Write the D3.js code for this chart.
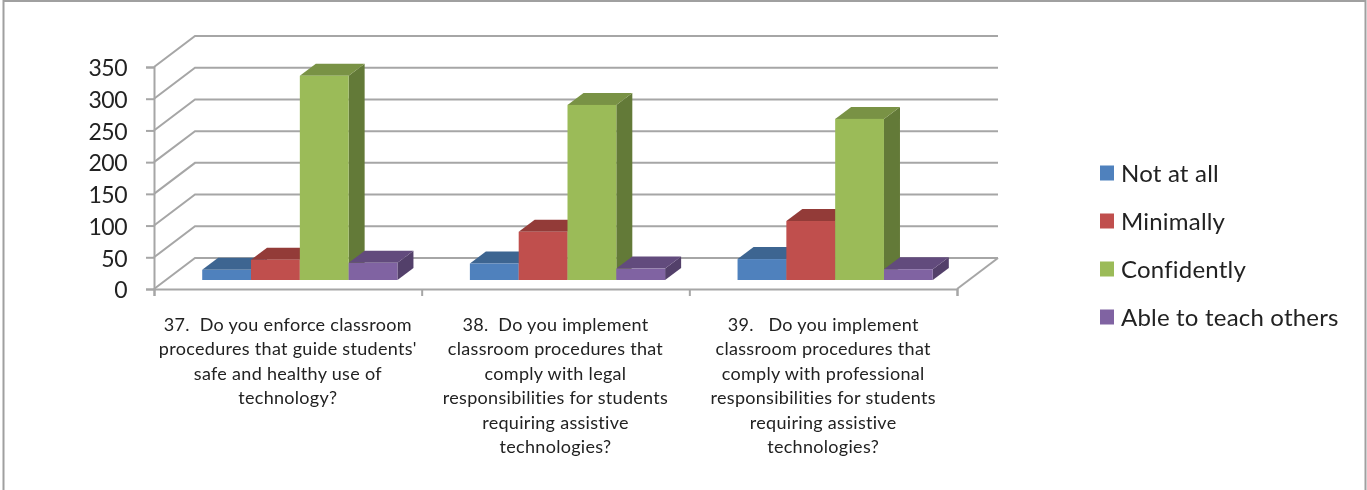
<!DOCTYPE html>
<html>
<head>
<meta charset="utf-8">
<script src="https://cdn.jsdelivr.net/npm/d3@7"></script>
<style>
    html, body { margin: 0; padding: 0; background: #fff; }
    svg { display: block; }
    text { font-family: Lato, "Open Sans", sans-serif; fill: #222; white-space: pre; }
</style>
</head>
<body>
<svg id="chart" width="1367" height="490"></svg>
<script>
const categories = [
    ["37.  Do you enforce classroom", "procedures that guide students'", "safe and healthy use of", "technology?"],
    ["38.  Do you implement", "classroom procedures that", "comply with legal", "responsibilities for students", "requiring assistive", "technologies?"],
    ["39.   Do you implement", "classroom procedures that", "comply with professional", "responsibilities for students", "requiring assistive", "technologies?"]
];
const seriesNames = ["Not at all", "Minimally", "Confidently", "Able to teach others"];
const notAtAll = [16, 26, 33];
const minimally = [32, 76, 93];
const confidently = [322, 276, 254];
const ableToTeach = [27, 18, 17];
const yTicks = [0, 50, 100, 150, 200, 250, 300, 350];

const seriesValues = [notAtAll, minimally, confidently, ableToTeach];
const colors = [
    { front: "#4f81bd", top: "#3d6591", side: "#375a82" },
    { front: "#c0504d", top: "#933b39", side: "#843533" },
    { front: "#9bbb59", top: "#799244", side: "#647a37" },
    { front: "#8064a2", top: "#624b7d", side: "#533f6b" }
];

const svg = d3.select("#chart");
const gridColor = "#a6a6a6";

// the reference is a slightly soft screenshot
svg.append("filter")
    .attr("id", "soft")
    .attr("x", 0).attr("y", 0).attr("width", 1).attr("height", 1)
    .attr("filterUnits", "objectBoundingBox")
    .append("feGaussianBlur")
    .attr("stdDeviation", 0.45);

const root = svg.append("g").attr("filter", "url(#soft)");

root.append("rect").attr("width", 1367).attr("height", 490).attr("fill", "#fff");

// frame of the screenshot
root.append("path")
    .attr("d", "M3.5,490V1H1365.5V490")
    .attr("fill", "none")
    .attr("stroke", "#a0a0a0")
    .attr("stroke-width", 2);

const x = d3.scaleLinear().domain([0, 3]).range([154, 957]);
const y = d3.scaleLinear().domain([0, 350]).range([289, 67]);

// depth of the floor, where the bars stand on it and how deep they are
const wall = { dx: 41, dy: -31 };
const barStand = { dx: 12, dy: -9 };
const barDepth = { dx: 16, dy: -12 };

const band = d3.scaleBand().domain(d3.range(3)).range(x.range());
const inner = d3.scaleBand().domain(d3.range(4)).range([0, band.bandwidth()]).paddingInner(0).paddingOuter(0.742);

const plot = root.append("g");
const line = d3.line();

// gridlines on side wall and back wall
plot.selectAll("path.grid")
    .data(yTicks)
    .enter().append("path")
    .attr("class", "grid")
    .attr("fill", "none")
    .attr("stroke", gridColor)
    .attr("stroke-width", 2)
    .attr("d", d => line([
        [x(0), y(d)],
        [x(0) + wall.dx, y(d) + wall.dy],
        [x(3) + wall.dx, y(d) + wall.dy]
    ]));

// right edge of the floor
plot.append("path")
    .attr("fill", "none")
    .attr("stroke", gridColor)
    .attr("stroke-width", 2)
    .attr("d", line([[x(3), y(0)], [x(3) + wall.dx, y(0) + wall.dy]]));

// axes
const yAxis = d3.axisLeft(y).tickValues(yTicks).tickSize(8).tickPadding(19);
const yG = root.append("g").attr("transform", `translate(${x(0)},0)`).call(yAxis);
yG.selectAll("text")
    .attr("dy", "0.38em")
    .style("font-size", "23px")
    .style("letter-spacing", "-0.5px");

const xAxis = d3.axisBottom(x).tickValues([0, 1, 2, 3]).tickSize(7).tickFormat("");
root.append("g").attr("transform", `translate(0,${y(0)})`).call(xAxis);

root.selectAll(".domain, .tick line")
    .attr("stroke", gridColor)
    .attr("stroke-width", 2);

// bars
categories.forEach((cat, c) => {
    seriesValues.forEach((values, s) => {
        const x0 = band(c) + inner(s) + barStand.dx;
        const x1 = x0 + inner.bandwidth();
        const yBase = y(0) + barStand.dy;
        const yTop = y(values[c]) + barStand.dy;
        const g = plot.append("g");

        g.append("path")
            .attr("fill", colors[s].side)
            .attr("d", line([
                [x1, yTop],
                [x1 + barDepth.dx, yTop + barDepth.dy],
                [x1 + barDepth.dx, yBase + barDepth.dy],
                [x1, yBase]
            ]) + "Z");
        g.append("path")
            .attr("fill", colors[s].top)
            .attr("d", line([
                [x0, yTop],
                [x0 + barDepth.dx, yTop + barDepth.dy],
                [x1 + barDepth.dx, yTop + barDepth.dy],
                [x1, yTop]
            ]) + "Z");
        g.append("rect")
            .attr("x", x0)
            .attr("y", yTop)
            .attr("width", x1 - x0)
            .attr("height", yBase - yTop)
            .attr("fill", colors[s].front);
    });
});

// category labels
categories.forEach((cat, c) => {
    const label = root.append("text")
        .attr("text-anchor", "middle")
        .style("font-size", "18px")
        .style("letter-spacing", "0.3px");
    cat.forEach((txt, i) => {
        label.append("tspan")
            .attr("x", band(c) + band.bandwidth() / 2)
            .attr("y", 331 + i * 24.4)
            .text(txt);
    });
});

// legend
const legendY = d3.scalePoint().domain(seriesNames).range([173, 317]);
const legend = root.selectAll("g.legend")
    .data(seriesNames)
    .enter().append("g")
    .attr("class", "legend")
    .attr("transform", d => `translate(1100,${legendY(d)})`);

legend.append("rect")
    .attr("y", -7.5)
    .attr("width", 14)
    .attr("height", 15)
    .attr("fill", (d, i) => colors[i].front);

legend.append("text")
    .attr("x", 21)
    .attr("y", 9)
    .style("font-size", "24px")
    .style("letter-spacing", "0.2px")
    .text(d => d);
</script>
</body>
</html>
